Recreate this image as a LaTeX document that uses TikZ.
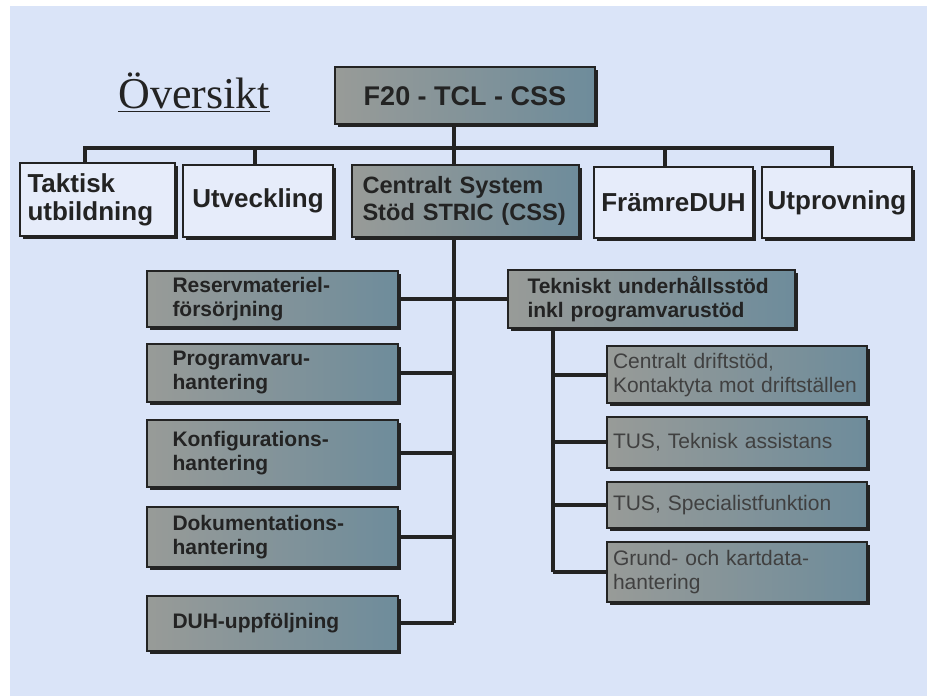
\documentclass[tikz,border=0pt]{standalone}
\usepackage{fontspec}
\setsansfont{Liberation Sans}
\newfontfamily\titlefont{Liberation Serif}
\usetikzlibrary{shadows,calc}
\definecolor{SlideBlue}{RGB}{218,228,248}
\definecolor{PaleBox}{RGB}{230,236,250}
\definecolor{BoxGray}{RGB}{152,155,152}
\definecolor{BoxTeal}{RGB}{110,140,155}
\definecolor{InkGray}{RGB}{35,35,35}

\begin{document}
\begin{tikzpicture}[x=0.5pt,y=-0.5pt,
    box/.style={draw=InkGray,line width=1pt,inner sep=0pt,text=InkGray,
      general shadow={fill=InkGray,shadow xshift=1.5pt,shadow yshift=-1.5pt},
      font=\sffamily\bfseries\fontsize{13}{14}\selectfont},
    palebox/.style={box,fill=PaleBox},
    graybox/.style={box,left color=BoxGray,right color=BoxTeal},
    sidebox/.style={graybox,minimum width=125.5pt,text width=100pt,align=left,
      font=\sffamily\bfseries\fontsize{10.5}{12}\selectfont},
    subbox/.style={graybox,minimum width=130pt,text width=124pt,align=left,
      text=black!75,font=\sffamily\fontsize{10.5}{12}\selectfont},
    link/.style={InkGray,line width=2pt}]
      \useasboundingbox (0,0) rectangle (938,700);
      \fill[white] (0,0) rectangle (938,700);
      \fill[SlideBlue] (10,6) rectangle (927,696);
      \coordinate (bus) at (0,148);
      \coordinate (spine) at (454,0);
      \coordinate (sub) at (553,0);
      % title and top level
      \node[font=\titlefont\fontsize{22}{22}\selectfont,text=InkGray,inner sep=0pt] (title) at (194,93) {\underline{Översikt}};
      \node[graybox,minimum width=130pt,minimum height=28.5pt,font=\sffamily\bfseries\fontsize{13.5}{14}\selectfont] (top) at (465,96) {F20 - TCL - CSS};
      % second row
      \node[palebox,minimum width=77.5pt,minimum height=36.5pt,text width=70pt,align=left] (tak) at (97.5,199.5) {Taktisk\\utbildning};
      \node[palebox,minimum width=75pt,minimum height=36pt] (utv) at (258,201) {Utveckling};
      \node[graybox,minimum width=113.5pt,minimum height=36pt,text width=103pt,align=left,font=\sffamily\bfseries\fontsize{11.8}{13.5}\selectfont] (css) at (465.5,201) {Centralt System\\Stöd STRIC (CSS)};
      \node[palebox,minimum width=79.5pt,minimum height=35.5pt] (fram) at (673.5,202.5) {FrämreDUH};
      \node[palebox,minimum width=75pt,minimum height=35.5pt] (utp) at (837,202.5) {Utprovning};
      % left column
      \node[sidebox,minimum height=28pt] (res) at (272.5,299) {Reservmateriel-\\försörjning};
      \node[sidebox,minimum height=29pt] (prog) at (272.5,373) {Programvaru-\\hantering};
      \node[sidebox,minimum height=33.5pt] (konf) at (272.5,453.5) {Konfigurations-\\hantering};
      \node[sidebox,minimum height=30pt] (dok) at (272.5,537) {Dokumentations-\\hantering};
      \node[sidebox,minimum height=27.5pt] (duh) at (272.5,623) {DUH-uppföljning};
      % right column
      \node[graybox,minimum width=143.5pt,minimum height=29pt,text width=124pt,align=left,font=\sffamily\bfseries\fontsize{10.5}{12}\selectfont] (tek) at (651.5,299) {Tekniskt underhållsstöd\\inkl programvarustöd};
      \node[subbox,minimum height=28.5pt] (cen) at (737,375) {Centralt driftstöd,\\Kontaktyta mot driftställen};
      \node[subbox,minimum height=25.5pt] (tus) at (737,442.5) {TUS, Teknisk assistans};
      \node[subbox,minimum height=22.5pt] (spec) at (737,505) {TUS, Specialistfunktion};
      \node[subbox,minimum height=30pt] (grund) at (737,572) {Grund- och kartdata-\\hantering};
      % connectors
      \draw[link] ([xshift=-6.25pt]tak.north) -- ([xshift=-6.25pt]tak.north |- bus) -| ([xshift=-2.5pt]utp.north);
      \draw[link] ([xshift=-1.5pt]utv.north) -- ([xshift=-1.5pt]utv.north |- bus);
      \draw[link] ([xshift=-4.25pt]fram.north) -- ([xshift=-4.25pt]fram.north |- bus);
      \draw[link] (spine |- top.south) -- (spine |- css.north);
      \draw[link] (spine |- css.south) -- (spine |- duh.east);
      \draw[link] (res.east) -- (res.east -| tek.west);
      \foreach \n in {prog,konf,dok,duh}
        \draw[link] (\n.east) -- (\n.east -| spine);
      \draw[link] (sub |- tek.south) -- (sub |- grund.west);
      \foreach \n in {cen,tus,spec,grund}
        \draw[link] (sub |- \n.west) -- (\n.west);
\end{tikzpicture}
\end{document}
